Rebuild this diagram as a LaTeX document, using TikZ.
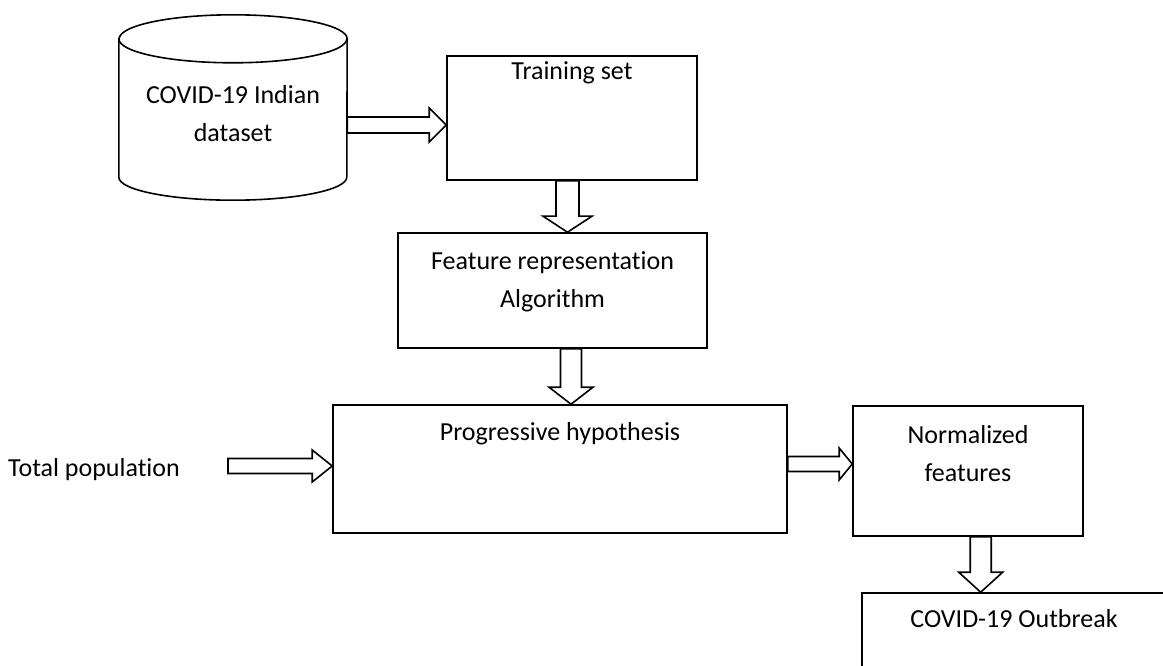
\documentclass[tikz,border=0pt]{standalone}
\usepackage{fontspec}
\setmainfont[Ligatures=NoCommon]{Carlito}
\usetikzlibrary{calc}
\begin{document}
\begin{tikzpicture}[x=1pt,y=-1pt,
  outline/.style={draw=black, line width=1.6pt},
  box/.style={outline, rectangle, inner sep=0pt},
  txt/.style={font=\fontsize{26pt}{38pt}\selectfont, align=center, inner sep=0pt, anchor=base},
  % hollow block arrow, horizontal: shaft half width, head half width, head length
  hfat/.style n args={3}{to path={let \p1=(\tikztostart), \p2=(\tikztotarget) in
    (\x1,\y2+#1pt) -- (\x2-#3pt,\y2+#1pt) -- (\x2-#3pt,\y2+#2pt) -- (\x2,\y2)
    -- (\x2-#3pt,\y2-#2pt) -- (\x2-#3pt,\y2-#1pt) -- (\x1,\y2-#1pt) -- cycle}},
  % hollow block arrow, pointing down
  vfat/.style n args={3}{to path={let \p1=(\tikztostart), \p2=(\tikztotarget) in
    (\x2-#1pt,\y1) -- (\x2-#1pt,\y2+#3pt) -- (\x2-#2pt,\y2+#3pt) -- (\x2,\y2)
    -- (\x2+#2pt,\y2+#3pt) -- (\x2+#1pt,\y2+#3pt) -- (\x2+#1pt,\y1) -- cycle}}
]
\useasboundingbox (0,0) rectangle (1163,666);
\clip (0,0) rectangle (1163,666);
\fill[white] (0,0) rectangle (1163,666);

% data store
\node[inner sep=0pt, minimum width=228pt, minimum height=185pt,
      label={[txt, yshift=-127pt]north:{COVID-19 Indian\\dataset}}] (cyl) at (233,107.5) {};
\draw[outline] ([yshift=-24pt]cyl.north west) -- ([yshift=23pt]cyl.south west)
  arc[start angle=180, end angle=360, x radius=114pt, y radius=23pt]
  -- ([yshift=-24pt]cyl.north east)
  arc[start angle=0, end angle=180, x radius=114pt, y radius=24pt] -- cycle;
\draw[outline] ([yshift=-24pt]cyl.north west)
  arc[start angle=180, end angle=360, x radius=114pt, y radius=24pt];

% process boxes
\node[box, minimum width=250pt, minimum height=124pt,
      label={[txt, yshift=-24pt]north:Training set}] (train) at (572,118) {};
\node[box, minimum width=309pt, minimum height=115pt,
      label={[txt, yshift=-75pt]north:{Feature representation\\Algorithm}}] (feat) at (552.5,290.5) {};
\node[box, minimum width=454pt, minimum height=128pt,
      label={[txt, yshift=-36pt]north:Progressive hypothesis}] (prog) at (560,469) {};
\node[box, minimum width=230pt, minimum height=130pt,
      label={[txt, yshift=-76pt]north:{Normalized\\features}}] (norm) at (968,471) {};
\node[box, minimum width=304pt, minimum height=107pt,
      label={[txt, yshift=-35pt]north:COVID-19 Outbreak}] (out) at (1014,646.5) {};

\node[txt, anchor=base west] (pop) at (8,476) {Total population};
\coordinate (popout) at (228,466);

% connectors
\draw[outline] (cyl.east) to[hfat={8}{17}{17}] ([yshift=-7pt]train.west);
\draw[outline] (train.south) to[vfat={11.5}{24.5}{16}] ([xshift=15pt]feat.north);
\draw[outline] (feat.south) to[vfat={10.5}{22}{17}] ([xshift=11pt]prog.north);
\draw[outline] (popout) to[hfat={7.5}{16}{20}] ([yshift=3pt]prog.west);
\draw[outline] (prog.east) to[hfat={7.5}{16}{13}] ([yshift=7pt]norm.west);
\draw[outline] (norm.south) to[vfat={10.5}{22}{20}] ([xshift=119.5pt]out.north west);
\end{tikzpicture}
\end{document}
